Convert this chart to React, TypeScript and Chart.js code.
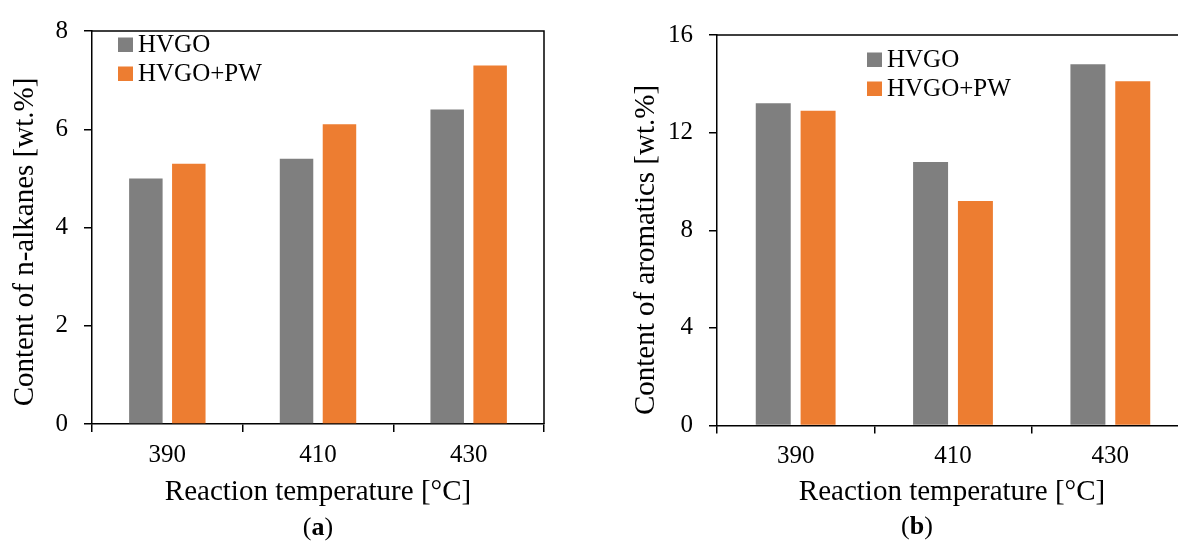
import React, { useEffect, useRef } from 'react';
import { Chart, registerables } from 'chart.js';

Chart.register(...registerables);

// ---------- data ----------
const categories = ['390', '410', '430'];
const seriesNames = ['HVGO', 'HVGO+PW'];
const alkanesHVGO = [5.0, 5.4, 6.4];
const alkanesHVGOPW = [5.3, 6.1, 7.3];
const aromaticsHVGO = [13.2, 10.8, 14.8];
const aromaticsHVGOPW = [12.9, 9.2, 14.1];
const alkanesAxis = { max: 8, step: 2 };
const aromaticsAxis = { max: 16, step: 4 };
const seriesColors = ['#7f7f7f', '#ed7d31'];

const FONT = '"Liberation Serif", "Times New Roman", serif';

const decorPlugin = {
  id: 'decor',
  afterDraw(chart: any, _args: any, opts: any) {
    const { ctx, chartArea: a } = chart;
    ctx.save();
    // frame (top and right)
    ctx.strokeStyle = '#000';
    ctx.lineWidth = 1.5;
    ctx.beginPath();
    ctx.moveTo(a.left, a.top);
    ctx.lineTo(a.right, a.top);
    ctx.lineTo(a.right, a.bottom);
    ctx.stroke();

    // legend
    ctx.font = `25px ${FONT}`;
    ctx.textAlign = 'left';
    ctx.textBaseline = 'alphabetic';
    chart.data.datasets.forEach((ds: any, i: number) => {
      const y = opts.legendY + i * opts.legendGap;
      ctx.fillStyle = ds.backgroundColor;
      ctx.fillRect(opts.legendX, y - 14.5, 15, 14.5);
      ctx.fillStyle = '#000';
      ctx.fillText(ds.label, opts.legendX + 20, y);
    });

    // y title
    ctx.font = `29px ${FONT}`;
    ctx.fillStyle = '#000';
    ctx.save();
    ctx.translate(opts.yTitleX, opts.yTitleY);
    ctx.rotate(-Math.PI / 2);
    ctx.textAlign = 'center';
    ctx.fillText(opts.yTitle, 0, 0);
    ctx.restore();

    // x title
    ctx.textAlign = 'center';
    ctx.fillText(opts.xTitle, opts.xTitleX, opts.xTitleY);

    // caption "(a)" with bold letter
    const reg = `26px ${FONT}`;
    const bold = `bold 26px ${FONT}`;
    ctx.font = reg;
    const wo = ctx.measureText('(').width;
    const wc = ctx.measureText(')').width;
    ctx.font = bold;
    const wl = ctx.measureText(opts.caption).width;
    let x = opts.captionX - (wo + wl + wc) / 2;
    ctx.textAlign = 'left';
    ctx.font = reg;
    ctx.fillText('(', x, opts.captionY);
    x += wo;
    ctx.font = bold;
    ctx.fillText(opts.caption, x, opts.captionY);
    x += wl;
    ctx.font = reg;
    ctx.fillText(')', x, opts.captionY);
    ctx.restore();
  },
};

type Spec = {
  width: number;
  height: number;
  left: number;
  right: number;
  top: number;
  bottom: number;
  hvgo: number[];
  hvgopw: number[];
  axis: { max: number; step: number };
  decor: any;
};

function BarPanel({ spec, style }: { spec: Spec; style: React.CSSProperties }) {
  const ref = useRef<HTMLCanvasElement>(null);
  useEffect(() => {
    if (!ref.current) return;
    const s = spec;
    const chart = new Chart(ref.current, {
      type: 'bar',
      data: {
        labels: categories,
        datasets: [
          {
            label: seriesNames[0],
            data: s.hvgo,
            backgroundColor: seriesColors[0],
            borderWidth: 0,
            categoryPercentage: 0.57,
            barPercentage: 0.78,
          },
          {
            label: seriesNames[1],
            data: s.hvgopw,
            backgroundColor: seriesColors[1],
            borderWidth: 0,
            categoryPercentage: 0.57,
            barPercentage: 0.78,
          },
        ],
      },
      options: {
        responsive: false,
        devicePixelRatio: 1,
        animation: false,
        events: [],
        layout: {
          padding: { left: 0, top: s.top, right: s.width - s.right, bottom: 0 },
        },
        plugins: {
          legend: { display: false },
          tooltip: { enabled: false },
          decor: s.decor,
        } as any,
        scales: {
          x: {
            afterFit: (sc: any) => {
              sc.height = s.height - s.bottom;
            },
            grid: {
              offset: true,
              drawOnChartArea: false,
              drawTicks: true,
              tickLength: 8,
              color: '#000',
              lineWidth: 1.5,
            },
            border: { display: true, color: '#000', width: 1.5 },
            ticks: {
              color: '#000',
              font: { family: FONT, size: 25 },
              padding: 8,
            },
          },
          y: {
            min: 0,
            max: s.axis.max,
            afterFit: (sc: any) => {
              sc.width = s.left;
            },
            grid: {
              drawOnChartArea: false,
              drawTicks: true,
              tickLength: 8,
              color: '#000',
              lineWidth: 1.5,
            },
            border: { display: true, color: '#000', width: 1.5 },
            ticks: {
              stepSize: s.axis.step,
              color: '#000',
              font: { family: FONT, size: 25 },
              padding: 16,
            },
          },
        },
      },
      plugins: [decorPlugin],
    });
    return () => chart.destroy();
  }, []);
  return (
    <canvas
      ref={ref}
      width={spec.width}
      height={spec.height}
      style={{ display: 'block', position: 'absolute', width: spec.width, height: spec.height, ...style }}
    />
  );
}

const panelA: Spec = {
  width: 589,
  height: 543,
  left: 92,
  right: 544,
  top: 24,
  bottom: 424,
  hvgo: alkanesHVGO,
  hvgopw: alkanesHVGOPW,
  axis: alkanesAxis,
  decor: {
    legendX: 118,
    legendY: 52,
    legendGap: 29,
    yTitle: 'Content of n-alkanes [wt.%]',
    yTitleX: 33,
    yTitleY: 242,
    xTitle: 'Reaction temperature [°C]',
    xTitleX: 318,
    xTitleY: 500,
    caption: 'a',
    captionX: 318,
    captionY: 535,
  },
};

const panelB: Spec = {
  width: 620,
  height: 543,
  left: 128,
  right: 600,
  top: 35,
  bottom: 425.5,
  hvgo: aromaticsHVGO,
  hvgopw: aromaticsHVGOPW,
  axis: aromaticsAxis,
  decor: {
    legendX: 278,
    legendY: 67,
    legendGap: 29,
    yTitle: 'Content of aromatics [wt.%]',
    yTitleX: 65,
    yTitleY: 250,
    xTitle: 'Reaction temperature [°C]',
    xTitleX: 363,
    xTitleY: 500,
    caption: 'b',
    captionX: 328,
    captionY: 534,
  },
};

export default function App() {
  return (
    <div
      style={{
        position: 'fixed',
        left: 0,
        top: 0,
        width: 1178,
        height: 543,
        overflow: 'hidden',
        background: '#fff',
      }}
    >
      <BarPanel spec={panelA} style={{ left: 0, top: 0 }} />
      <BarPanel spec={panelB} style={{ left: 589, top: 0 }} />
    </div>
  );
}
